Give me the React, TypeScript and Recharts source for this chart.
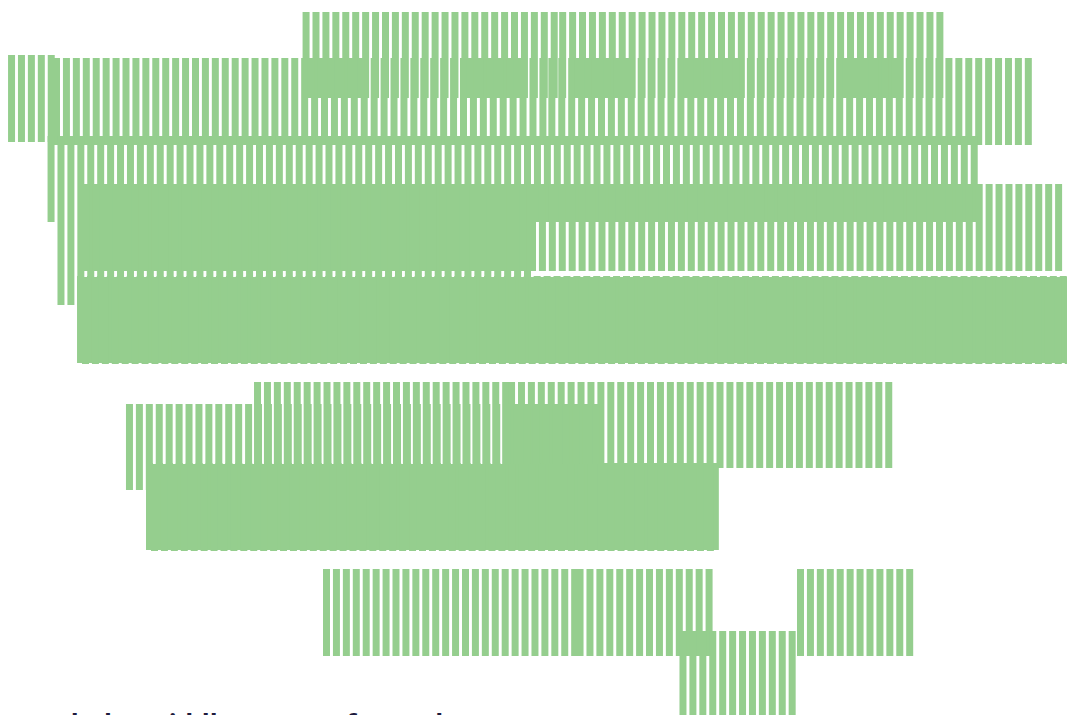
import React from 'react';
import { BarChart, Bar, XAxis, YAxis } from 'recharts';

// Each band: a run of equal range bars. start = slot of first bar (fractional), count = bars, [low, high] = value range
const upperBands = [
  { name: 'A1', start: 30.48, count: 26, low: 662, high: 748 },
  { name: 'A2', start: 56.33, count: 39, low: 662, high: 748 },
  { name: 'B0', start: 0.81, count: 5, low: 618, high: 705 },
  { name: 'B1', start: 5.34, count: 50, low: 615, high: 702 },
  { name: 'B2', start: 55.24, count: 49, low: 615, high: 702 },
  { name: 'C', start: 4.79, count: 94, low: 538, high: 624 },
  { name: 'D', start: 5.79, count: 48, low: 455, high: 538 },
  { name: 'E', start: 8.29, count: 99, low: 489, high: 576 },
  { name: 'F1', start: 7.76, count: 100, low: 397, high: 484 },
  { name: 'F2', start: 8.26, count: 100, low: 396, high: 483 },
];

// short runs sitting where the top two bands overlap
const overlapRuns = [
  { name: 'P1', start: 30.99, count: 6, low: 662, high: 702 },
  { name: 'P2', start: 46.98, count: 6, low: 662, high: 702 },
  { name: 'P3', start: 57.84, count: 6, low: 662, high: 702 },
  { name: 'P4', start: 68.83, count: 6, low: 662, high: 702 },
  { name: 'P5', start: 84.83, count: 6, low: 662, high: 702 },
];

const lowerBands = [
  { name: 'G1', start: 25.59, count: 26, low: 292, high: 378 },
  { name: 'G2', start: 51.18, count: 39, low: 292, high: 378 },
  { name: 'H', start: 12.69, count: 48, low: 270, high: 356 },
  { name: 'I1', start: 14.71, count: 58, low: 210, high: 297 },
  { name: 'I2', start: 15.21, count: 57, low: 209, high: 296 },
];

const bottomBands = [
  { name: 'J1', start: 32.54, count: 26, low: 104, high: 191 },
  { name: 'J2', start: 58.08, count: 14, low: 104, high: 191 },
  { name: 'K', start: 68.45, count: 12, low: 20, high: 129 },
  { name: 'L', start: 80.29, count: 12, low: 104, high: 191 },
];

const titleText = 'rated: the middle at most for each set';

const SLOTS = 108;
const VALUE_MAX = 760;

const bands = [...upperBands, ...overlapRuns, ...lowerBands, ...bottomBands];

const rows = Array.from({ length: SLOTS }, (_, k) => {
  const r: Record<string, any> = { slot: k };
  bands.forEach((b) => {
    const k0 = Math.floor(b.start);
    if (k >= k0 && k < k0 + b.count) r[b.name] = [b.low, b.high];
  });
  return r;
});

const CHART_W = 1082;
const CHART_H = 760;
const slotPx = CHART_W / (SLOTS + 1);
const FILL = '#95ce8e';

export default function App() {
  return (
    <div
      style={{
        position: 'fixed',
        left: 0,
        top: 0,
        width: 1067,
        height: 715,
        overflow: 'hidden',
        background: '#fff',
      }}
    >
      <div style={{ position: 'absolute', left: -1, top: 0 }}>
        <BarChart
          width={CHART_W}
          height={CHART_H}
          data={rows}
          margin={{ top: 0, right: 0, bottom: 0, left: 0 }}
          barGap={0}
        >
          {bands.map((b) => {
            const frac = b.start - Math.floor(b.start);
            return (
              <XAxis
                key={'x' + b.name}
                xAxisId={b.name}
                dataKey="slot"
                type="category"
                hide
                padding={{ left: frac * slotPx, right: (1 - frac) * slotPx }}
              />
            );
          })}
          <YAxis yAxisId="v" type="number" domain={[0, VALUE_MAX]} hide allowDataOverflow />
          {bands.map((b) => (
            <Bar
              key={b.name}
              dataKey={b.name}
              xAxisId={b.name}
              yAxisId="v"
              barSize={7}
              fill={FILL}
              isAnimationActive={false}
            />
          ))}
        </BarChart>
      </div>
      <div
        style={{
          position: 'absolute',
          left: 8,
          top: 709,
          fontFamily: '"Open Sans", sans-serif',
          fontWeight: 700,
          fontSize: 26,
          lineHeight: '30px',
          color: '#1c1a3c',
          whiteSpace: 'nowrap',
        }}
      >
        {titleText}
      </div>
    </div>
  );
}
